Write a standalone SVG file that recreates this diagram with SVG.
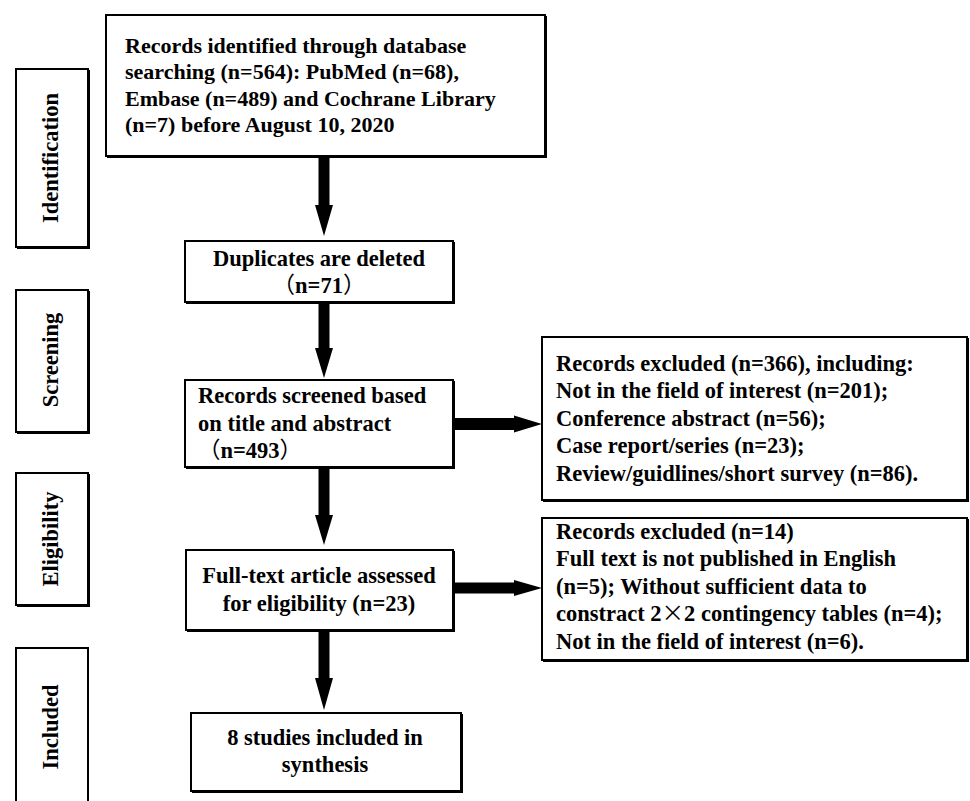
<svg xmlns="http://www.w3.org/2000/svg" width="970" height="801" viewBox="0 0 970 801">
<style>
.box{fill:#fff;stroke:#000;stroke-width:2}
.sh{fill:none;stroke:#000;stroke-width:2}
.t{font-family:"Liberation Serif","Times New Roman",Times,serif;font-weight:bold;font-size:22.5px;fill:#000}
.top{font-size:22px}
.cjk{font-family:"Noto Sans CJK SC","Noto Sans CJK JP",sans-serif;font-weight:normal}
.c{text-anchor:middle}
.arr{fill:#000;stroke:none}
</style>
<rect width="970" height="801" fill="#fff"/>
<g id="stage-identification">
<rect class="box" x="16" y="69" width="72" height="178"/>
<path class="sh" d="M89,70V248H17"/>
<text class="t c" transform="translate(58,158) rotate(-90)">Identification</text>
</g>
<g id="stage-screening">
<rect class="box" x="16" y="290" width="72" height="142"/>
<path class="sh" d="M89,291V433H17"/>
<text class="t c" transform="translate(58,360) rotate(-90)">Screening</text>
</g>
<g id="stage-eligibility">
<rect class="box" x="16" y="473" width="72" height="132"/>
<path class="sh" d="M89,474V606H17"/>
<text class="t c" transform="translate(58,539) rotate(-90)">Eligibility</text>
</g>
<g id="stage-included">
<rect class="box" x="16" y="648" width="72" height="170"/>
<text class="t c" transform="translate(58,727) rotate(-90)">Included</text>
</g>
<g id="records-identified">
<rect class="box" x="106" y="15" width="439" height="141"/>
<path class="sh" d="M546,16V157H107"/>
<text class="t top" x="125" y="53">Records identified through database</text>
<text class="t top" x="125" y="79">searching (n=564): PubMed (n=68),</text>
<text class="t top" x="125" y="106">Embase (n=489) and Cochrane Library</text>
<text class="t top" x="125" y="132">(n=7) before August 10, 2020</text>
</g>
<g id="duplicates">
<rect class="box" x="185" y="241" width="268" height="61"/>
<path class="sh" d="M454,242V303H186"/>
<text class="t c" x="319" y="266">Duplicates are deleted</text>
<text class="t c" x="319" y="293"><tspan class="cjk">（</tspan>n=71<tspan class="cjk">）</tspan></text>
</g>
<g id="screened">
<rect class="box" x="185" y="380" width="268" height="87"/>
<path class="sh" d="M454,381V468H186"/>
<text class="t" x="198" y="403">Records screened based</text>
<text class="t" x="198" y="431">on title and abstract</text>
<text class="t" x="198" y="458"><tspan class="cjk">（</tspan>n=493<tspan class="cjk">）</tspan></text>
</g>
<g id="excluded-1">
<rect class="box" x="542" y="337" width="425" height="163"/>
<path class="sh" d="M968,338V501H543"/>
<text class="t" x="556" y="371">Records excluded (n=366), including:</text>
<text class="t" x="556" y="398">Not in the field of interest (n=201);</text>
<text class="t" x="556" y="426">Conference abstract (n=56);</text>
<text class="t" x="556" y="453">Case report/series (n=23);</text>
<text class="t" x="556" y="481">Review/guidlines/short survey (n=86).</text>
</g>
<g id="fulltext">
<rect class="box" x="186" y="550" width="267" height="80"/>
<path class="sh" d="M454,551V631H187"/>
<text class="t c" x="319" y="583">Full-text article assessed</text>
<text class="t c" x="319" y="611">for eligibility (n=23)</text>
</g>
<g id="excluded-2">
<rect class="box" x="542" y="518" width="425" height="142"/>
<path class="sh" d="M968,519V661H543"/>
<text class="t" x="556" y="539">Records excluded (n=14)</text>
<text class="t" x="556" y="566">Full text is not published in English</text>
<text class="t" x="556" y="594">(n=5); Without sufficient data to</text>
<text class="t" x="556" y="621">constract 2<tspan class="cjk">×</tspan>2 contingency tables (n=4);</text>
<text class="t" x="556" y="649">Not in the field of interest (n=6).</text>
</g>
<g id="included">
<rect class="box" x="191" y="713" width="270" height="78"/>
<path class="sh" d="M462,714V792H192"/>
<text class="t c" x="325" y="745">8 studies included in</text>
<text class="t c" x="325" y="772">synthesis</text>
</g>
<g id="connectors">
<path class="arr" d="M318.5,157H329.5V205H333L324,236L315,205H318.5Z"/>
<path class="arr" d="M318.5,303H329.5V348H333L324,378L315,348H318.5Z"/>
<path class="arr" d="M318.5,468H329.5V515H333L324,545L315,515H318.5Z"/>
<path class="arr" d="M318.5,631H329.5V678H333L324,710L315,678H318.5Z"/>
<path class="arr" d="M454,418H514V415.5L542,424L514,432.5V430H454Z"/>
<path class="arr" d="M454,582.5H514V580L542,588L514,596V593.5H454Z"/>
</g>
</svg>
